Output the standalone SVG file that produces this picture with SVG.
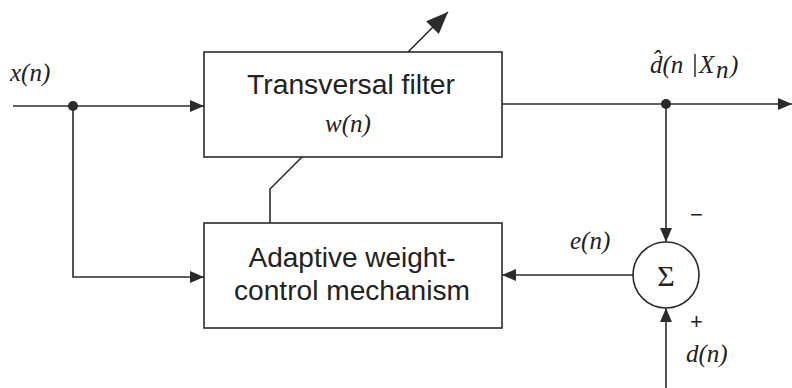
<svg xmlns="http://www.w3.org/2000/svg" width="792" height="388" viewBox="0 0 792 388">
  <style>
    .box { fill: #ffffff; stroke: #2b2b2b; stroke-width: 1.6; }
    .wire { fill: none; stroke: #2b2b2b; stroke-width: 1.6; }
    .label { font-family: "Liberation Sans", Arial, sans-serif; font-size: 27px; fill: #222; text-anchor: middle; }
    .math { font-family: "Liberation Serif", "Times New Roman", serif; font-style: italic; font-size: 25px; fill: #222; }
    .sign { font-family: "Liberation Sans", Arial, sans-serif; font-size: 22px; fill: #222; }
  </style>
  <defs>
    <marker id="arrow" viewBox="0 0 14 12" refX="14" refY="6" markerWidth="14" markerHeight="12" markerUnits="userSpaceOnUse" orient="auto">
      <path d="M0,0 L14,6 L0,12 Z" fill="#2b2b2b"/>
    </marker>
    <marker id="arrowBig" viewBox="0 0 22 18" refX="22" refY="9" markerWidth="22" markerHeight="18" markerUnits="userSpaceOnUse" orient="auto">
      <path d="M0,0 L22,9 L0,18 Z" fill="#2b2b2b"/>
    </marker>
  </defs>

  <g id="connectors">
    <!-- input x(n) into the filter -->
    <path class="wire" d="M13,106 L204,106" marker-end="url(#arrow)"/>
    <!-- branch of the input down to the weight-control block -->
    <path class="wire" d="M73,106 L73,277 L204,277" marker-end="url(#arrow)"/>
    <!-- filter output -->
    <path class="wire" d="M502,104 L792,104" marker-end="url(#arrow)"/>
    <!-- estimate fed to the summing junction -->
    <path class="wire" d="M666,104 L666,242" marker-end="url(#arrow)"/>
    <!-- desired response into the summing junction -->
    <path class="wire" d="M666,388 L666,308" marker-end="url(#arrow)"/>
    <!-- error signal back to the weight-control block -->
    <path class="wire" d="M633,275 L502,275" marker-end="url(#arrow)"/>
    <!-- weight adjustment through the filter -->
    <path class="wire" d="M270,223 L270,189 L302,157"/>
    <path class="wire" d="M408,52 L448,12" marker-end="url(#arrowBig)"/>
    <!-- junction dots -->
    <circle cx="73" cy="106" r="5" fill="#2b2b2b"/>
    <circle cx="666" cy="104" r="5" fill="#2b2b2b"/>
  </g>

  <g id="filter">
    <rect class="box" x="204" y="52" width="298" height="105"/>
    <text class="label" x="351" y="94" textLength="208" lengthAdjust="spacingAndGlyphs">Transversal filter</text>
    <text class="math" x="348" y="132" text-anchor="middle" font-size="23">w(n)</text>
  </g>

  <g id="weight-control">
    <rect class="box" x="204" y="223" width="298" height="105"/>
    <text class="label" x="352" y="267" textLength="207" lengthAdjust="spacingAndGlyphs">Adaptive weight-</text>
    <text class="label" x="352" y="300" textLength="236" lengthAdjust="spacingAndGlyphs">control mechanism</text>
  </g>

  <g id="sum">
    <circle cx="666" cy="275" r="33" fill="#ffffff" stroke="#2b2b2b" stroke-width="1.6"/>
    <text x="666" y="286" text-anchor="middle" font-family="'Liberation Serif', serif" font-size="30" fill="#222">Σ</text>
    <text class="sign" x="690" y="222">−</text>
    <text class="sign" x="690" y="329">+</text>
  </g>

  <g id="labels">
    <text class="math" x="10" y="81">x(n)</text>
    <text class="math" x="570" y="249">e(n)</text>
    <text class="math" x="686" y="362">d(n)</text>
    <!-- estimate label: d-hat(n | X_n) -->
    <text class="math" x="650" y="73">d̂(n</text>
    <line x1="695" y1="54" x2="695" y2="77" stroke="#222" stroke-width="1.4"/>
    <text class="math" x="699" y="73">X</text>
    <text class="math" x="716" y="78" font-size="13">n</text>
    <text class="math" x="730" y="73">)</text>
  </g>
</svg>
